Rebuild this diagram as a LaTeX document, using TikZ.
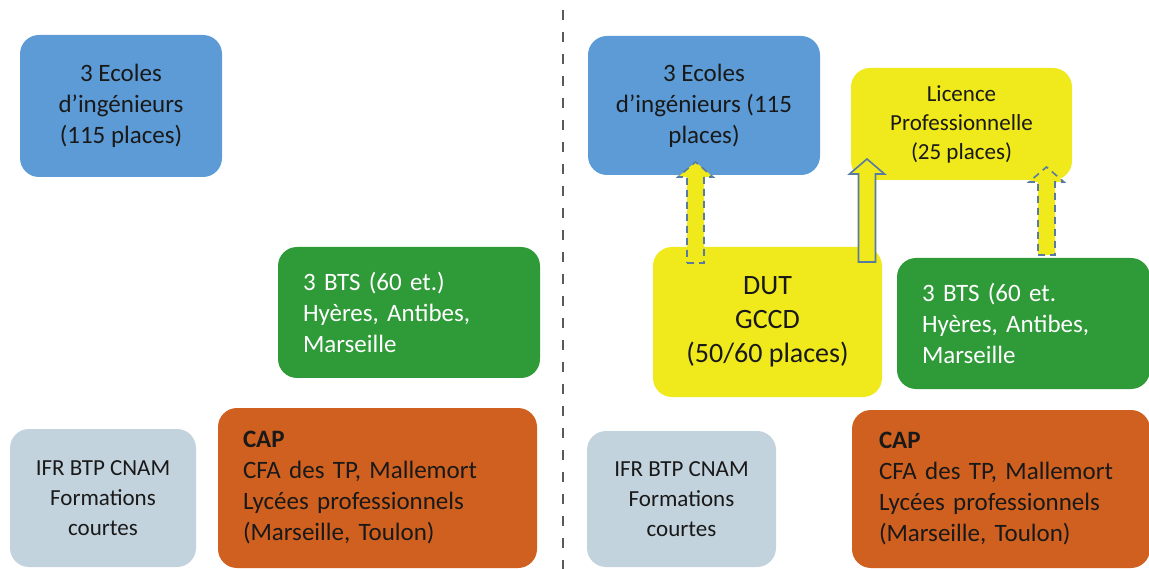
\documentclass[tikz,border=0pt]{standalone}
\usepackage{fontspec}
\setmainfont{Carlito}
\usetikzlibrary{calc}

\definecolor{ecoleblue}{HTML}{5C9BD6}
\definecolor{btsgreen}{HTML}{2F9A38}
\definecolor{caporange}{HTML}{D0601F}
\definecolor{ifrgray}{HTML}{C3D3DE}
\definecolor{dutyellow}{HTML}{F0E91C}
\definecolor{arrowline}{HTML}{5A7BA0}

\tikzset{
  box/.style={rectangle, rounded corners=19pt, inner sep=0pt, text=black!90,
    font=\fontsize{25}{31}\selectfont},
  boxc/.style={box, align=center},
  boxl/.style={box, align=left, inner xsep=25pt},
  blockarrow/.style={fill=dutyellow, draw=arrowline, line width=1.6pt},
  dasharrow/.style={blockarrow, dash pattern=on 7pt off 5pt},
  sepline/.style={draw=black!65, line width=2.5pt, dash pattern=on 10pt off 12pt}
}

% block arrow pointing up, from tail to tip
\newcommand{\upblock}[3][]{%
  \draw[blockarrow,#1] let \p1=(#2), \p2=(#3) in
    (\x1-8.5pt,\y1) -- (\x1+8.5pt,\y1) -- (\x1+8.5pt,\y2-15pt) -- (\x1+17.5pt,\y2-15pt)
    -- (\x1,\y2) -- (\x1-17.5pt,\y2-15pt) -- (\x1-8.5pt,\y2-15pt) -- cycle;}

\begin{document}
\begin{tikzpicture}[x=1pt, y=-1pt]
    \useasboundingbox (0,0) rectangle (1149,569);

    % left half
    \node [boxc, fill=ecoleblue, minimum width=202pt, minimum height=142pt] (ecolesL) at (121,106)
        {3 Ecoles\\d’ingénieurs\\(115 places)};
    \node [boxl, fill=btsgreen, text=white, text width=212pt, minimum height=131pt] (btsL) at (409,312.5)
        {3 BTS (60 et.)\\Hyères, Antibes,\\Marseille};
    \node [boxc, fill=ifrgray, minimum width=186pt, minimum height=138pt,
        font=\fontsize{23}{30}\selectfont] (ifrL) at (103,498)
        {IFR BTP CNAM\\Formations\\courtes};
    \node [boxl, fill=caporange, text width=269pt, minimum height=160pt] (capL) at (377.5,488)
        {\textbf{CAP}\\CFA des TP, Mallemort\\Lycées professionnels\\(Marseille, Toulon)};

    \draw [sepline] (563,10) -- (563,569);

    % right half
    \node [boxc, fill=ecoleblue, minimum width=232pt, minimum height=139pt] (ecolesR) at (704,105.5)
        {3 Ecoles\\d’ingénieurs (115\\places)};
    \node [boxc, fill=dutyellow, minimum width=221pt, minimum height=112pt,
        font=\fontsize{23}{29}\selectfont] (licence) at (961.5,124)
        {Licence\\Professionnelle\\(25 places)};
    \node [boxc, fill=dutyellow, minimum width=229pt, minimum height=150pt,
        font=\fontsize{28}{34}\selectfont] (dut) at (767.5,322)
        {DUT\\GCCD\\(50/60 places)};
    \node [boxl, fill=btsgreen, text=white, text width=203pt, minimum height=131pt] (btsR) at (1023.5,323.5)
        {3 BTS (60 et.\\Hyères, Antibes,\\Marseille};
    \node [boxc, fill=ifrgray, minimum width=189pt, minimum height=136pt,
        font=\fontsize{23}{30}\selectfont] (ifrR) at (681.5,499)
        {IFR BTP CNAM\\Formations\\courtes};
    \node [boxl, fill=caporange, inner xsep=27pt, text width=244pt, minimum height=158pt] (capR) at (1001,489)
        {\textbf{CAP}\\CFA des TP, Mallemort\\Lycées professionnels\\(Marseille, Toulon)};

    % arrows
    \coordinate (dutA) at (695.5,263);
    \coordinate (ecolesA) at (695.5,162);
    \coordinate (dutB) at (867,262);
    \coordinate (licenceB) at (867,159);
    \coordinate (btsC) at (1046.5,255);
    \coordinate (licenceC) at (1046.5,167);
    \upblock[dasharrow]{dutA}{ecolesA}
    \upblock{dutB}{licenceB}
    \upblock[dasharrow]{btsC}{licenceC}
\end{tikzpicture}
\end{document}
